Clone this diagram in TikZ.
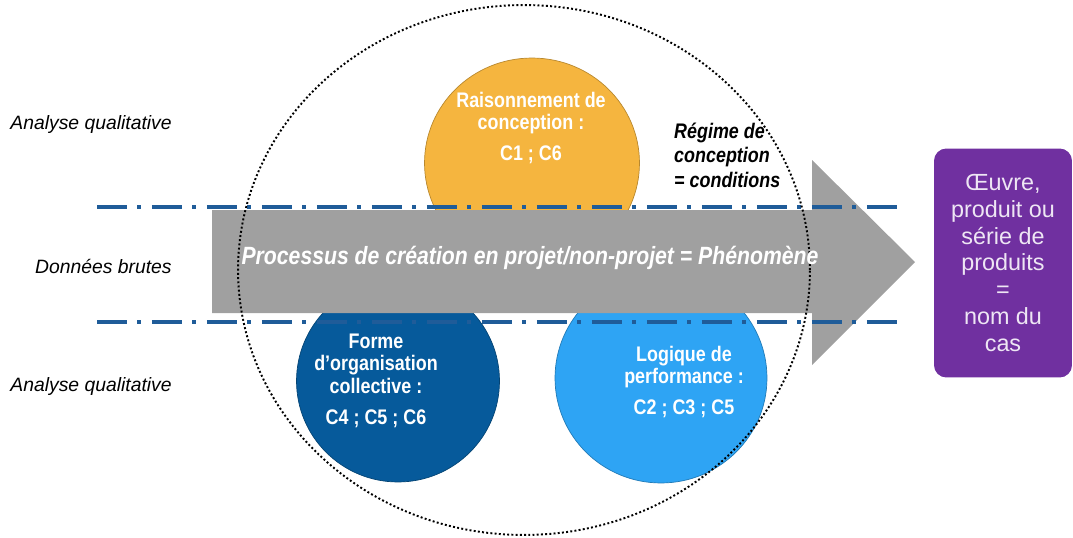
\documentclass[tikz,border=0pt]{standalone}
\usepackage{fontspec}
\setmainfont{Liberation Sans}
\newfontfamily\condfont[FakeStretch=0.85]{Liberation Sans}
\usepackage{tikz}
\usetikzlibrary{shapes.geometric, positioning}
\definecolor{orangec}{HTML}{F5B53F}
\definecolor{darkbluec}{HTML}{065A9B}
\definecolor{lightbluec}{HTML}{2EA4F4}
\definecolor{arrowgray}{HTML}{A0A0A0}
\definecolor{axisblue}{HTML}{1F5C99}
\definecolor{purplec}{HTML}{7030A0}

\begin{document}
\begin{tikzpicture}[
  x=0.02cm, y=-0.02cm,
  bubble/.style={ellipse, draw=#1!75!black, fill=#1, line width=0.4pt, inner sep=0pt},
  bubtxt/.style={align=center, text=white, font=\condfont\bfseries\fontsize{12}{12.8}\selectfont},
  sidelbl/.style={anchor=east, inner sep=0pt, font=\itshape\fontsize{11}{13}\selectfont},
  axis/.style={draw=axisblue, line width=2pt, dash pattern=on 17pt off 6pt on 2pt off 6.3pt},
  casebox/.style={rectangle, rounded corners=7pt, fill=purplec, text=white!88!purplec,
    align=center, minimum width=2.76cm, minimum height=4.58cm,
    font=\fontsize{13.3}{15.3}\selectfont}
]
\useasboundingbox (0,0) rectangle (1073,538);

% the three circles
\node[bubble=orangec, minimum width=4.3cm, minimum height=4.2cm] (rais) at (532,163) {};
\node[bubble=darkbluec, minimum width=4.06cm, minimum height=4.04cm] (forme) at (398,381) {};
\node[bubble=lightbluec, minimum width=4.24cm, minimum height=4.2cm] (logique) at (661,378) {};

% big arrow
\fill[arrowgray] (212,210) -- (812,210) -- (812,160) -- (915,262) -- (812,365)
  -- (812,313) -- (212,313) -- cycle;

% dash-dot lines
\coordinate (haut g) at (97,207);
\coordinate (haut d) at (900,207);
\coordinate (bas g) at (97,322);
\coordinate (bas d) at (900,322);
\draw[axis] (haut g) -- (haut d);
\draw[axis] (bas g) -- (bas d);

% dotted frame
\node[ellipse, draw, line width=1.1pt, dash pattern=on 1.1pt off 1.3pt,
  minimum width=11.44cm, minimum height=10.6cm] (cadre) at (524,270) {};

% texts
\node[bubtxt] (raistxt) at (531,128) {Raisonnement de\\conception :\\[5pt]C1 ; C6};
\node[bubtxt] (formetxt) at (376,381) {Forme\\d’organisation\\collective :\\[5pt]C4 ; C5 ; C6};
\node[bubtxt] (logtxt) at (684,382) {Logique de\\performance :\\[5pt]C2 ; C3 ; C5};
\node[align=left, anchor=west, font=\condfont\bfseries\itshape\fontsize{12}{14}\selectfont]
  (regime) at (668,155) {Régime de\\conception\\= conditions};
\node[text=white, font=\condfont\bfseries\itshape\fontsize{14.2}{16}\selectfont]
  (phen) at (530,258) {Processus de création en projet/non-projet = Phénomène};

\node[sidelbl] (qualh) at (172,124) {Analyse qualitative};
\node[sidelbl] (brut) at (172,266) {Données brutes};
\node[sidelbl] (qualb) at (172,386) {Analyse qualitative};

\node[casebox] (cas) at (1003,263) {Œuvre,\\produit ou\\série de\\produits\\=\\nom du\\cas};
\end{tikzpicture}
\end{document}
